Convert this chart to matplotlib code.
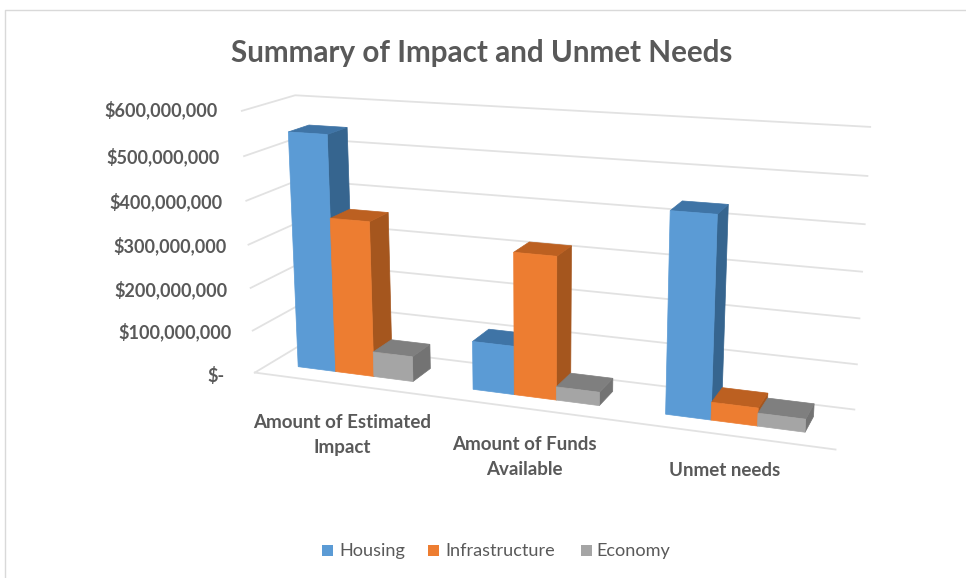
import numpy as np
import matplotlib
matplotlib.use("Agg")
import matplotlib.pyplot as plt
from matplotlib.patches import Polygon, Rectangle

categories = ["Amount of Estimated\nImpact", "Amount of Funds\nAvailable", "Unmet needs"]
series_names = ["Housing", "Infrastructure", "Economy"]
housing = [546e6, 110e6, 436e6]
infrastructure = [358e6, 319e6, 39e6]
economy = [58e6, 30e6, 28e6]
tick_values = [0, 100e6, 200e6, 300e6, 400e6, 500e6, 600e6]
tick_labels = ["$-", "$100,000,000", "$200,000,000", "$300,000,000",
               "$400,000,000", "$500,000,000", "$600,000,000"]

front_colors = ["#5B9BD5", "#ED7D31", "#A5A5A5"]
side_colors = ["#36658F", "#A5561E", "#737373"]
top_colors = ["#3F74A6", "#BC6021", "#7F7F7F"]
grid_color = "#E2E2E2"
text_color = "#595959"
VMAX = 600e6

plt.rcParams["font.family"] = ["Lato", "DejaVu Sans"]

# box corners (across, depth, height) and where they land on the canvas
box_pts = np.array([[0, 0, 0], [0, 0, 1], [0, 1, 0], [0, 1, 1],
                    [1, 1, 0], [1, 1, 1], [1, 0, 0]], dtype=float)
canvas_pts = np.array([[257, 373], [240, 110], [303, 342], [297, 96],
                       [855, 409], [870, 127], [835, 450]], dtype=float)


def fit_camera(xyz, uv):
    rows = []
    rhs = []
    for (x, y, z), (u, v) in zip(xyz, uv):
        rows.append([x, y, z, 1, 0, 0, 0, 0, -u * x, -u * y, -u * z])
        rows.append([0, 0, 0, 0, x, y, z, 1, -v * x, -v * y, -v * z])
        rhs += [u, v]
    p = np.linalg.lstsq(np.array(rows), np.array(rhs), rcond=None)[0]
    return np.append(p, 1.0).reshape(3, 4)


CAM = fit_camera(box_pts, canvas_pts / 1000.0)


def proj(x, y, z):
    h = CAM @ np.array([x, y, z, 1.0])
    return h[0] / h[2] * 1000.0, h[1] / h[2] * 1000.0


fig = plt.figure(figsize=(9.66, 5.78), dpi=100)
ax = fig.add_axes([0, 0, 1, 1])
ax.set_xlim(0, 966)
ax.set_ylim(578, 0)
ax.axis("off")

# chart frame, open at right and bottom
ax.plot([5, 5, 966], [578, 10, 10], color="#D9D9D9", lw=1.0)

# gridlines run along the side wall then the back wall
for val in tick_values:
    z = val / VMAX
    pts = [proj(0, 0, z), proj(0, 1, z), proj(1, 1, z)]
    ax.plot([p[0] for p in pts], [p[1] for p in pts], color=grid_color, lw=1.3,
            solid_joinstyle="miter", zorder=1)
floor = [proj(0, 0, 0), proj(1, 0, 0)]
ax.plot([p[0] for p in floor], [p[1] for p in floor], color=grid_color, lw=1.3, zorder=1)

# bars: gap of 150% around each cluster and in depth
series = [housing, infrastructure, economy]
n_cat = len(categories)
bar_w = 1.0 / n_cat / 4.5
d0, d1 = 0.3, 0.7


def face(pts, color, z):
    ax.add_patch(Polygon([proj(*p) for p in pts], closed=True, facecolor=color,
                         edgecolor=color, lw=0.5, zorder=z))


for c in range(n_cat):
    for s, vals in enumerate(series):
        x0 = c / n_cat + 0.75 * bar_w + s * bar_w
        x1 = x0 + bar_w
        z = vals[c] / VMAX
        order = 2 + c + s * 0.1
        face([(x1, d0, 0), (x1, d1, 0), (x1, d1, z), (x1, d0, z)], side_colors[s], order)
        face([(x0, d0, z), (x1, d0, z), (x1, d1, z), (x0, d1, z)], top_colors[s], order)
        face([(x0, d0, 0), (x1, d0, 0), (x1, d0, z), (x0, d0, z)], front_colors[s], order + 0.01)

ax.text(482, 53, "Summary of Impact and Unmet Needs", ha="center", va="center",
        fontsize=21.3, fontweight="bold", color=text_color)

# value labels step inward with the slanted axis
label_right = [225, 232, 228, 227, 223, 220, 218]
label_y = [376, 332, 290, 246, 202, 157, 110]
for lab, rx, ly in zip(tick_labels, label_right, label_y):
    ax.text(rx, ly, lab, ha="right", va="center", fontsize=13, fontweight="bold",
            color=text_color)

cat_pos = [(342, 435), (524, 457), (725, 470)]
for lab, (cx, cy) in zip(categories, cat_pos):
    ax.text(cx, cy, lab, ha="center", va="center", fontsize=13.5, fontweight="bold",
            color=text_color, linespacing=1.6)

# legend
legend_pos = [(322, 339), (428, 445), (581, 596)]
for name, col, (sx, tx) in zip(series_names, front_colors, legend_pos):
    ax.add_patch(Rectangle((sx, 545), 11, 11, facecolor=col, edgecolor="none"))
    ax.text(tx, 551, name, ha="left", va="center", fontsize=13.1, color=text_color)

fig.savefig("out.png", dpi=100)
